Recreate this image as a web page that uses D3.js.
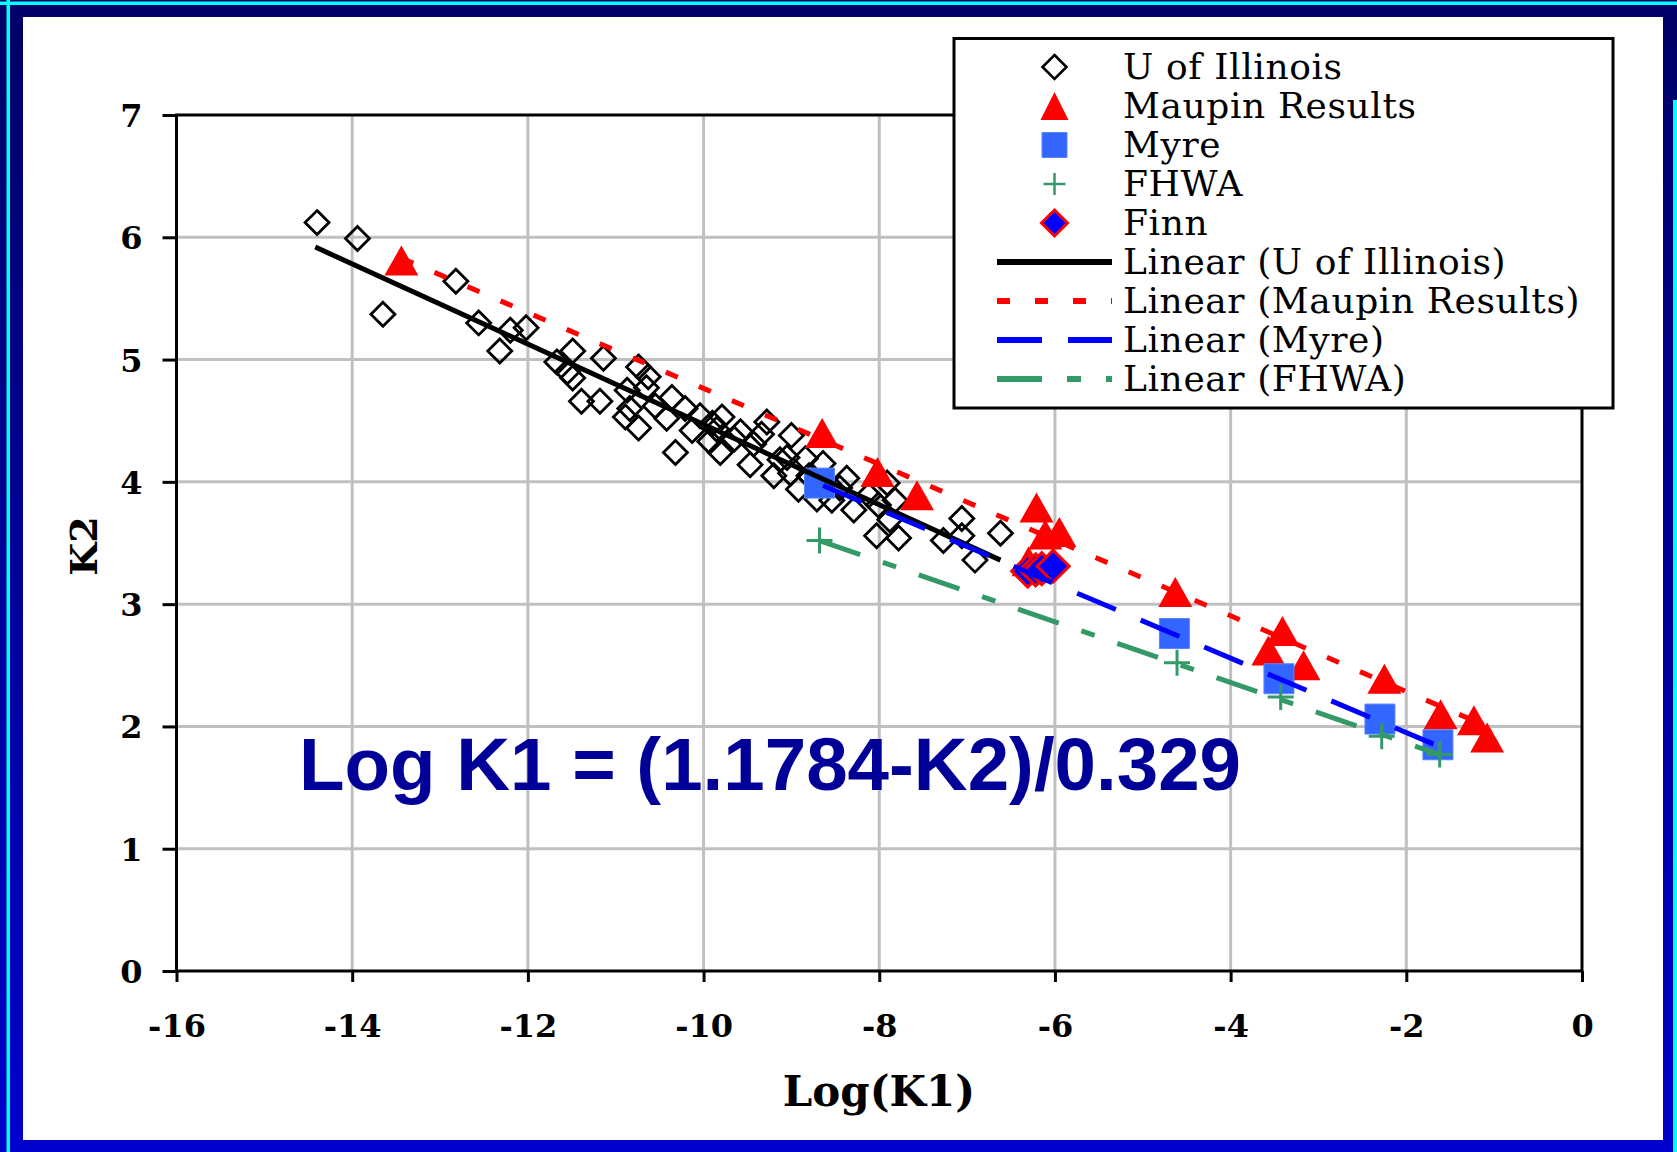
<!DOCTYPE html>
<html><head><meta charset="utf-8">
<script src="https://cdn.jsdelivr.net/npm/d3@7"></script>
<style>html,body{margin:0;padding:0;background:#fff}svg{display:block}</style>
</head><body><svg id="c" width="1677" height="1152"></svg>
<script>
// ---------- data ----------
const xTicks = [-16,-14,-12,-10,-8,-6,-4,-2,0];
const yTicks = [0,1,2,3,4,5,6,7];

const illinoisX = [-14.40,-13.94,-13.65,-12.82,-12.56,-12.32,-12.20,-12.02,-11.49,-11.67,-11.14,-11.39,-11.49,-10.74,-10.63,-11.18,-10.84,-10.74,-10.87,-10.36,-10.21,-10.42,-10.32,-10.04,-9.79,-9.85,-9.93,-9.81,-10.13,-10.89,-10.65,-9.58,-9.28,-9.34,-9.00,-9.43,-9.47,-9.13,-8.84,-8.64,-9.01,-8.92,-8.71,-8.54,-8.37,-8.29,-8.12,-8.01,-7.91,-7.82,-8.03,-7.78,-7.88,-7.27,-7.06,-7.06,-6.91,-6.62,-10.55,-9.65,-9.20,-8.80,-8.45,-11.55,-9.90,-9.05];
const illinoisY = [6.12,5.99,5.37,5.64,5.30,5.07,5.24,5.26,5.07,4.98,5.01,4.66,4.85,4.94,4.86,4.66,4.60,4.44,4.75,4.69,4.60,4.52,4.24,4.54,4.53,4.43,4.33,4.24,4.42,4.53,4.77,4.41,4.49,4.39,4.38,4.31,4.14,4.18,4.19,4.15,4.07,3.94,3.86,3.85,4.03,3.77,3.89,3.81,3.99,3.85,3.56,3.54,3.69,3.52,3.70,3.56,3.36,3.58,4.62,4.35,4.05,4.05,3.95,4.90,4.48,4.20];

const maupinX = [-13.44,-8.65,-8.02,-7.57,-6.21,-6.11,-5.95,-6.30,-4.63,-3.41,-3.57,-3.17,-2.25,-1.61,-1.23,-1.08];
const maupinY = [5.81,4.40,4.08,3.89,3.79,3.57,3.59,3.35,3.10,2.78,2.62,2.50,2.39,2.10,2.05,1.91];

const myreX = [-8.68,-4.64,-3.45,-2.30,-1.64];
const myreY = [3.99,2.76,2.39,2.06,1.85];

const fhwaX = [-8.68,-4.61,-3.43,-2.28,-1.62];
const fhwaY = [3.52,2.52,2.24,1.92,1.77];

const finnX = [-6.31,-6.22,-6.15,-6.02];
const finnY = [3.27,3.28,3.29,3.31];

// linear trend lines (endpoints as drawn)
const trendIllinoisX = [-14.42,-6.62], trendIllinoisY = [5.92,3.36];
const trendMaupinX = [-13.44,-1.08],   trendMaupinY = [5.83,2.00];
const trendMyreX = [-8.64,-1.64],      trendMyreY = [3.97,1.84];
const trendFhwaX = [-8.68,-1.62],      trendFhwaY = [3.52,1.77];

const legendLabels = ["U of Illinois","Maupin Results","Myre","FHWA","Finn",
  "Linear (U of Illinois)","Linear (Maupin Results)","Linear (Myre)","Linear (FHWA)"];
const xTitle = "Log(K1)", yTitle = "K2";
const equation = "Log K1 = (1.1784-K2)/0.329";

// ---------- drawing ----------
const svg = d3.select("#c");
const W = 1677, H = 1152;
const zip = (a,b) => a.map((v,i)=>[v,b[i]]);

// frame
const defs = svg.append("defs");
const grad = defs.append("linearGradient").attr("id","fr").attr("x1",0).attr("y1",0).attr("x2",0).attr("y2",1);
grad.append("stop").attr("offset","0%").attr("stop-color","#000066");
grad.append("stop").attr("offset","100%").attr("stop-color","#0000cc");
svg.append("rect").attr("width",W).attr("height",H).attr("fill","url(#fr)");
svg.append("rect").attr("x",0).attr("y",1.5).attr("width",W).attr("height",3.5).attr("fill","#00ffff");
svg.append("rect").attr("x",6.5).attr("y",0).attr("width",3.5).attr("height",H).attr("fill","#00ffff");
svg.append("rect").attr("x",1673).attr("y",100).attr("width",4).attr("height",H-100).attr("fill","#00ffff");
svg.append("rect").attr("x",23).attr("y",17).attr("width",1663-23).attr("height",1140-17).attr("fill","#ffffff");

const x = d3.scaleLinear().domain([-16,0]).range([176.5,1582]);
const y = d3.scaleLinear().domain([0,7]).range([971,115]);

const serif = "'DejaVu Serif', 'Liberation Serif', serif";

// grid
const g = svg.append("g");
g.selectAll("line.vg").data(xTicks.slice(1,-1)).join("line")
  .attr("x1",d=>x(d)).attr("x2",d=>x(d)).attr("y1",y(0)).attr("y2",y(7))
  .attr("stroke","#c0c0c0").attr("stroke-width",3);
g.selectAll("line.hg").data(yTicks.slice(1,-1)).join("line")
  .attr("x1",x(-16)).attr("x2",x(0)).attr("y1",d=>y(d)).attr("y2",d=>y(d))
  .attr("stroke","#c0c0c0").attr("stroke-width",3);

// plot border
svg.append("rect").attr("x",x(-16)).attr("y",y(7)).attr("width",x(0)-x(-16)).attr("height",y(0)-y(7))
  .attr("fill","none").attr("stroke","#000").attr("stroke-width",3);

// axes
const fmt = d => String(d);
const xa = svg.append("g").attr("transform",`translate(0,${y(0)})`)
  .call(d3.axisBottom(x).tickValues(xTicks).tickSize(11).tickPadding(32).tickFormat(fmt));
const ya = svg.append("g").attr("transform",`translate(${x(-16)},0)`)
  .call(d3.axisLeft(y).tickValues(yTicks).tickSize(14).tickPadding(20).tickFormat(fmt));
[xa,ya].forEach(a=>{
  a.select(".domain").remove();
  a.selectAll(".tick line").attr("stroke","#000").attr("stroke-width",3);
  a.selectAll(".tick text").attr("fill","#000").style("font-family",serif)
    .style("font-weight","bold").style("font-size","32px");
});
ya.selectAll(".tick text").attr("dy","0.36em");

// titles
svg.append("text").attr("x",879).attr("y",1106).attr("text-anchor","middle")
  .style("font-family",serif).style("font-weight","bold").style("font-size","42px").text(xTitle);
svg.append("text").attr("transform","translate(97,546) rotate(-90)").attr("text-anchor","middle")
  .style("font-family",serif).style("font-weight","bold").style("font-size","38px").text(yTitle);

// marker shapes
function diamond(s){ return `M0,${-s}L${s},0L0,${s}L${-s},0Z`; }
function triangle(w,h){ return `M0,${-h/2}L${w/2},${h/2}L${-w/2},${h/2}Z`; }
function square(s){ return `M${-s},${-s}H${s}V${s}H${-s}Z`; }
function plus(s){ return `M${-s},0H${s}M0,${-s}V${s}`; }

const marks = svg.append("g");
// U of Illinois
marks.selectAll("path.ill").data(zip(illinoisX,illinoisY)).join("path")
  .attr("transform",d=>`translate(${x(d[0])},${y(d[1])})`).attr("d",diamond(12))
  .attr("fill","none").attr("stroke","#000").attr("stroke-width",2.8);
// Maupin
marks.selectAll("path.mau").data(zip(maupinX,maupinY)).join("path")
  .attr("transform",d=>`translate(${x(d[0])},${y(d[1])})`).attr("d",triangle(34,30))
  .attr("fill","#ff0000");
// Myre
marks.selectAll("path.myr").data(zip(myreX,myreY)).join("path")
  .attr("transform",d=>`translate(${x(d[0])},${y(d[1])})`).attr("d",square(15))
  .attr("fill","#3366ff").attr("stroke","#5a85ff").attr("stroke-width",1).attr("stroke-linejoin","round");
// FHWA
marks.selectAll("path.fh").data(zip(fhwaX,fhwaY)).join("path")
  .attr("transform",d=>`translate(${x(d[0])},${y(d[1])})`).attr("d",plus(13))
  .attr("fill","none").attr("stroke","#339966").attr("stroke-width",3);
// Finn
marks.selectAll("path.fn").data(zip(finnX,finnY)).join("path")
  .attr("transform",d=>`translate(${x(d[0])},${y(d[1])})`).attr("d",diamond(16))
  .attr("fill","#0000ff").attr("stroke","#ff0000").attr("stroke-width",3);

// trend lines
const line = d3.line().x(d=>x(d[0])).y(d=>y(d[1]));
const tl = svg.append("g").attr("fill","none");
tl.append("path").attr("d",line(zip(trendIllinoisX,trendIllinoisY)))
  .attr("stroke","#000").attr("stroke-width",5);
tl.append("path").attr("d",line(zip(trendMaupinX,trendMaupinY)))
  .attr("stroke","#ff0000").attr("stroke-width",5).attr("stroke-dasharray","13,23");
tl.append("path").attr("d",line(zip(trendMyreX,trendMyreY)))
  .attr("stroke","#0000ff").attr("stroke-width",5).attr("stroke-dasharray","42,27");
tl.append("path").attr("d",line(zip(trendFhwaX,trendFhwaY)))
  .attr("stroke","#339966").attr("stroke-width",5).attr("stroke-dasharray","43,24,14,24");

// equation
svg.append("text").attr("x",299).attr("y",790)
  .style("font-family","'Liberation Sans', Arial, sans-serif").style("font-weight","bold")
  .style("font-size","74.5px").attr("fill","#000099").text(equation);

// legend
const lg = svg.append("g");
lg.append("rect").attr("x",954).attr("y",38.5).attr("width",1613-954).attr("height",408-38.5)
  .attr("fill","#fff").attr("stroke","#000").attr("stroke-width",3);
const rowY = i => 67 + 39*i;
const sx = 1054.5;
lg.append("path").attr("transform",`translate(${sx},${rowY(0)})`).attr("d",diamond(12))
  .attr("fill","none").attr("stroke","#000").attr("stroke-width",2.6);
lg.append("path").attr("transform",`translate(${sx},${rowY(1)})`).attr("d",triangle(28,28)).attr("fill","#ff0000");
lg.append("path").attr("transform",`translate(${sx},${rowY(2)})`).attr("d",square(12.5))
  .attr("fill","#3366ff").attr("stroke","#5a85ff").attr("stroke-width",1);
lg.append("path").attr("transform",`translate(${sx},${rowY(3)})`).attr("d",plus(11))
  .attr("fill","none").attr("stroke","#339966").attr("stroke-width",2.5);
lg.append("path").attr("transform",`translate(${sx},${rowY(4)})`).attr("d",diamond(13))
  .attr("fill","#0000ff").attr("stroke","#ff0000").attr("stroke-width",3);
const lineStyles = [["#000",null,6],["#ff0000","13,25",6],["#0000ff","45,26",6],["#339966","45,25,14,25",6]];
lineStyles.forEach((s,i)=>{
  const l = lg.append("line").attr("x1",997).attr("x2",1112).attr("y1",rowY(5+i)).attr("y2",rowY(5+i))
    .attr("stroke",s[0]).attr("stroke-width",s[2]);
  if(s[1]) l.attr("stroke-dasharray",s[1]);
});
lg.selectAll("text").data(legendLabels).join("text")
  .attr("x",1123).attr("y",(d,i)=>rowY(i)+12)
  .style("font-family",serif).style("font-size","36px").style("letter-spacing","0.6px")
  .attr("fill","#000").text(d=>d);
</script></body></html>
